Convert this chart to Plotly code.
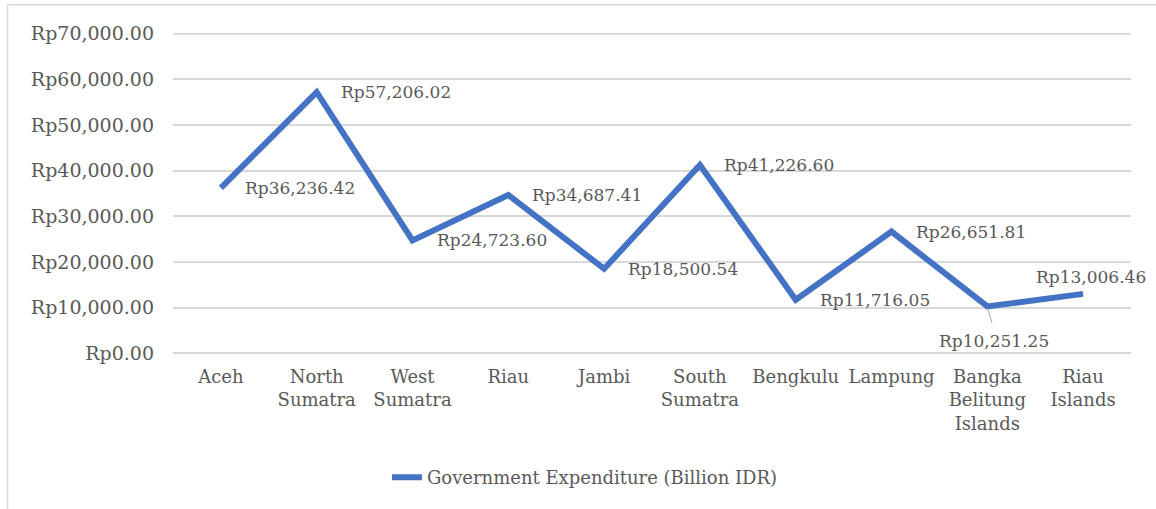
import plotly.graph_objects as go

categories = ["Aceh", "North<br>Sumatra", "West<br>Sumatra", "Riau", "Jambi",
              "South<br>Sumatra", "Bengkulu", "Lampung", "Bangka<br>Belitung<br>Islands",
              "Riau<br>Islands"]
values = [36236.42, 57206.02, 24723.60, 34687.41, 18500.54,
          41226.60, 11716.05, 26651.81, 10251.25, 13006.46]
series_name = "Government Expenditure (Billion IDR)"
y_ticks = [0, 10000, 20000, 30000, 40000, 50000, 60000, 70000]

FONT = "DejaVu Serif"
GRAY = "#595959"
BLUE = "#4472C4"

x_idx = list(range(len(categories)))

fig = go.Figure()
fig.add_trace(go.Scatter(
    x=x_idx, y=values, mode="lines", name=series_name,
    line=dict(color=BLUE, width=6), showlegend=True,
))

def fmt(v):
    return "Rp{:,.2f}".format(v)

# label offsets (pixels): default "right"
offsets = {8: dict(xanchor="center", yanchor="top", xshift=7, yshift=-23),
           9: dict(xanchor="center", yanchor="middle", xshift=8, yshift=17)}
for i, v in enumerate(values):
    o = offsets.get(i, dict(xanchor="left", yanchor="middle", xshift=22, yshift=0))
    fig.add_annotation(x=i, y=v, text=fmt(v), showarrow=False,
                       font=dict(family=FONT, size=17, color=GRAY), **o)

# leader line for Bangka Belitung label
fig.add_annotation(x=8, y=values[8], ax=5, ay=18, axref="pixel", ayref="pixel",
                   text="", showarrow=True, arrowhead=0, arrowwidth=1,
                   arrowcolor="#a6a6a6", standoff=2)

fig.update_layout(
    width=1156, height=509,
    margin=dict(l=173, r=25, t=31, b=153),
    paper_bgcolor="white", plot_bgcolor="white",
    font=dict(family=FONT, size=18, color=GRAY),
    xaxis=dict(tickmode="array", tickvals=x_idx, ticktext=categories,
               range=[-0.5, 9.5], showgrid=False, zeroline=False, showline=False,
               ticks="", ticklabelstandoff=8, tickfont=dict(size=18, color=GRAY)),
    yaxis=dict(tickmode="array", tickvals=y_ticks,
               ticktext=[fmt(t) for t in y_ticks], range=[-600, 70600],
               showgrid=True, gridcolor="#d9d9d9", gridwidth=1.5,
               zeroline=False, showline=False, ticks="",
               ticklabelstandoff=18, tickfont=dict(size=19, color=GRAY)),
    legend=dict(orientation="h", x=0.43, y=-0.374, xanchor="center", yanchor="middle",
                font=dict(family=FONT, size=18, color=GRAY)),
    shapes=[dict(type="rect", xref="paper", yref="paper",
                 x0=-0.1727, x1=1.05, y0=-0.6, y1=1.081,
                 line=dict(color="#d9d9d9", width=1.5), fillcolor="rgba(0,0,0,0)",
                 layer="below")],
)

fig.write_html("out.html")
